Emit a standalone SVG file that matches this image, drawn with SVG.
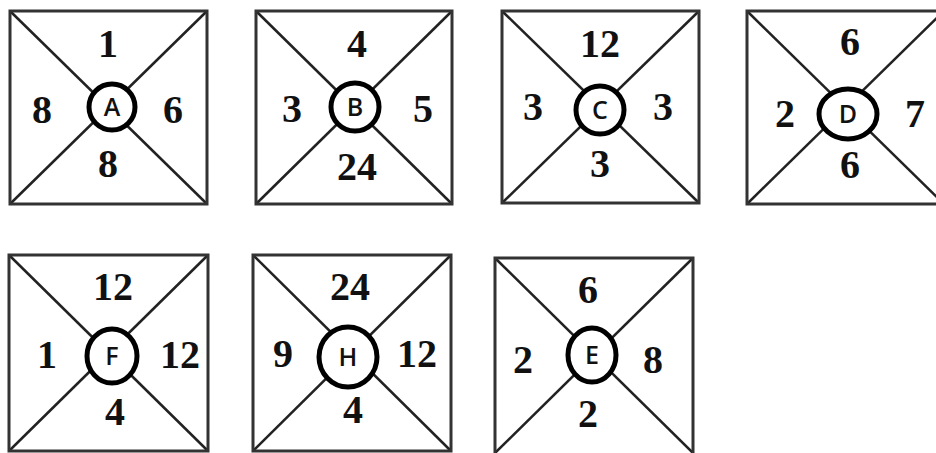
<svg xmlns="http://www.w3.org/2000/svg" width="936" height="453" viewBox="0 0 936 453">
<style>
.box{fill:none;stroke:#333;stroke-width:3}
.dg{stroke:#222;stroke-width:2.5}
.ring{fill:#fff;stroke:#000;stroke-width:5}
.n{font-family:"Liberation Serif","Times New Roman",serif;font-weight:bold;font-size:40px;fill:#111;text-anchor:middle}
.l{font-family:"Open Sans","Liberation Sans",Arial,sans-serif;font-weight:600;font-size:25px;fill:#111;text-anchor:middle}
</style>
<rect width="936" height="453" fill="#fff"/>
<g id="connectors">
<line class="dg" x1="10" y1="11" x2="207" y2="204"/><line class="dg" x1="207" y1="11" x2="10" y2="204"/>
<line class="dg" x1="256" y1="11" x2="452" y2="204"/><line class="dg" x1="452" y1="11" x2="256" y2="204"/>
<line class="dg" x1="502" y1="11" x2="699" y2="203"/><line class="dg" x1="699" y1="11" x2="502" y2="203"/>
<line class="dg" x1="747" y1="11" x2="944" y2="204"/><line class="dg" x1="944" y1="11" x2="747" y2="204"/>
<line class="dg" x1="9" y1="255" x2="208" y2="451"/><line class="dg" x1="208" y1="255" x2="9" y2="451"/>
<line class="dg" x1="253" y1="255" x2="451" y2="451"/><line class="dg" x1="451" y1="255" x2="253" y2="451"/>
<line class="dg" x1="495" y1="258" x2="693" y2="453"/><line class="dg" x1="693" y1="258" x2="495" y2="453"/>
</g>
<g id="boxA">
<rect class="box" x="10" y="11" width="197" height="193"/>
<circle class="ring" cx="112" cy="107" r="23"/>
<text class="l" x="112" y="116">A</text>
<text class="n" x="108" y="57">1</text><text class="n" x="42" y="123">8</text><text class="n" x="173" y="123">6</text><text class="n" x="108" y="177">8</text>
</g>
<g id="boxB">
<rect class="box" x="256" y="11" width="196" height="193"/>
<circle class="ring" cx="355" cy="107" r="24"/>
<text class="l" x="355" y="116">B</text>
<text class="n" x="357" y="57">4</text><text class="n" x="292" y="122">3</text><text class="n" x="423" y="122">5</text><text class="n" x="357" y="180">24</text>
</g>
<g id="boxC">
<rect class="box" x="502" y="11" width="197" height="192"/>
<circle class="ring" cx="600" cy="110" r="24"/>
<text class="l" x="600" y="119">C</text>
<text class="n" x="600" y="57">12</text><text class="n" x="533" y="120">3</text><text class="n" x="663" y="120">3</text><text class="n" x="600" y="177">3</text>
</g>
<g id="boxD">
<rect class="box" x="747" y="11" width="197" height="193"/>
<ellipse class="ring" cx="848" cy="114" rx="29" ry="25"/>
<text class="l" x="848" y="123">D</text>
<text class="n" x="850" y="55">6</text><text class="n" x="785" y="127">2</text><text class="n" x="915" y="127">7</text><text class="n" x="850" y="178">6</text>
</g>
<g id="boxF">
<rect class="box" x="9" y="255" width="199" height="196"/>
<ellipse class="ring" cx="112" cy="356" rx="25" ry="27"/>
<text class="l" x="112" y="365">F</text>
<text class="n" x="113" y="300">12</text><text class="n" x="47" y="368">1</text><text class="n" x="180" y="368">12</text><text class="n" x="115" y="425">4</text>
</g>
<g id="boxH">
<rect class="box" x="253" y="255" width="198" height="196"/>
<ellipse class="ring" cx="348" cy="357" rx="29" ry="30"/>
<text class="l" x="348" y="366">H</text>
<text class="n" x="350" y="300">24</text><text class="n" x="283" y="367">9</text><text class="n" x="417" y="367">12</text><text class="n" x="353" y="423">4</text>
</g>
<g id="boxE">
<rect class="box" x="495" y="258" width="198" height="197"/>
<ellipse class="ring" cx="592" cy="355" rx="24" ry="27"/>
<text class="l" x="592" y="364">E</text>
<text class="n" x="588" y="303">6</text><text class="n" x="523" y="373">2</text><text class="n" x="653" y="373">8</text><text class="n" x="588" y="427">2</text>
</g>
</svg>
